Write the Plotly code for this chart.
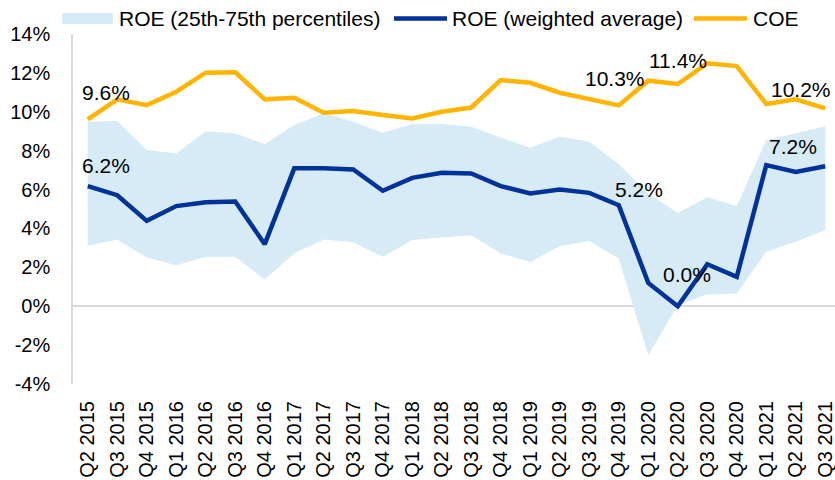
import plotly.graph_objects as go

quarters = ["Q2 2015", "Q3 2015", "Q4 2015", "Q1 2016", "Q2 2016", "Q3 2016", "Q4 2016",
            "Q1 2017", "Q2 2017", "Q3 2017", "Q4 2017", "Q1 2018", "Q2 2018", "Q3 2018",
            "Q4 2018", "Q1 2019", "Q2 2019", "Q3 2019", "Q4 2019", "Q1 2020", "Q2 2020",
            "Q3 2020", "Q4 2020", "Q1 2021", "Q2 2021", "Q3 2021"]

roe_p25 = [3.1, 3.43, 2.5, 2.11, 2.54, 2.54, 1.37, 2.71, 3.43, 3.29, 2.54, 3.4, 3.54, 3.65,
           2.71, 2.28, 3.09, 3.35, 2.45, -2.52, 0.05, 0.6, 0.65, 2.8, 3.31, 3.91]
roe_p75 = [9.49, 9.52, 8.03, 7.86, 9.0, 8.89, 8.34, 9.32, 9.92, 9.49, 8.92, 9.37, 9.37, 9.23,
           8.68, 8.15, 8.71, 8.46, 7.3, 5.8, 4.79, 5.6, 5.15, 8.54, 8.89, 9.26]
roe_avg = [6.18, 5.71, 4.39, 5.15, 5.35, 5.39, 3.19, 7.09, 7.09, 7.03, 5.94, 6.6, 6.86, 6.83,
           6.18, 5.8, 6.0, 5.83, 5.2, 1.2, 0.0, 2.16, 1.51, 7.26, 6.91, 7.2]
coe = [9.61, 10.64, 10.34, 11.03, 12.01, 12.03, 10.64, 10.72, 9.95, 10.04, 9.83, 9.66, 10.0,
       10.22, 11.63, 11.49, 10.98, 10.64, 10.33, 11.6, 11.43, 12.49, 12.35, 10.4, 10.64, 10.18]

series_names = ["ROE (25th-75th percentiles)", "ROE (weighted average)", "COE"]
y_ticks = [-4, -2, 0, 2, 4, 6, 8, 10, 12, 14]

BAND = "#d6ebf6"
BLUE = "#003299"
ORANGE = "#ffb400"
FONT = "Liberation Sans, Arial, sans-serif"

W, H = 835, 480
ML, MR, MT, MB = 73, 0, 34, 96
PW, PH = W - ML - MR, H - MT - MB


def px(xp):
    return (xp - ML) / PW


def py(yp):
    return (H - MB - yp) / PH


fig = go.Figure()
fig.add_trace(go.Scatter(x=quarters, y=roe_p25, mode="lines", line=dict(width=0, color=BAND),
                         showlegend=False, hoverinfo="skip"))
fig.add_trace(go.Scatter(x=quarters, y=roe_p75, mode="lines", line=dict(width=0, color=BAND),
                         fill="tonexty", fillcolor=BAND, name=series_names[0], showlegend=False))
fig.add_trace(go.Scatter(x=quarters, y=roe_avg, mode="lines", line=dict(width=4.5, color=BLUE),
                         name=series_names[1], showlegend=False))
fig.add_trace(go.Scatter(x=quarters, y=coe, mode="lines", line=dict(width=4.5, color=ORANGE),
                         name=series_names[2], showlegend=False))

# data labels: (series, index, xshift, yshift)
labels = [(coe, 0, 18, 27), (coe, 18, -4, 27), (coe, 20, 0, 23), (coe, 25, -24, 19),
          (roe_avg, 0, 18, 21), (roe_avg, 18, 20, 16), (roe_avg, 20, 9, 32), (roe_avg, 25, -32, 20)]
for series, i, xs, ys in labels:
    fig.add_annotation(x=quarters[i], y=series[i], text=f"{series[i]:.1f}%", showarrow=False,
                       xshift=xs, yshift=ys, font=dict(size=21, color="#000000", family=FONT))

# custom legend
LEG_Y = 18.5
fig.add_shape(type="rect", xref="paper", yref="paper", x0=px(62), x1=px(113), y0=py(24), y1=py(13),
              fillcolor=BAND, line=dict(width=0), layer="above")
fig.add_shape(type="line", xref="paper", yref="paper", x0=px(394), x1=px(447), y0=py(LEG_Y), y1=py(LEG_Y),
              line=dict(color=BLUE, width=4.5), layer="above")
fig.add_shape(type="line", xref="paper", yref="paper", x0=px(694), x1=px(747), y0=py(LEG_Y), y1=py(LEG_Y),
              line=dict(color=ORANGE, width=4.5), layer="above")
for name, xl in zip(series_names, [117, 450, 751]):
    fig.add_annotation(xref="paper", yref="paper", x=px(xl), y=py(LEG_Y), text=name,
                       showarrow=False, xanchor="left", yanchor="middle",
                       font=dict(size=21, color="#000000", family=FONT))

fig.update_layout(
    width=W, height=H,
    margin=dict(l=ML, r=MR, t=MT, b=MB, autoexpand=False),
    paper_bgcolor="white", plot_bgcolor="white",
    font=dict(family=FONT, size=20, color="#000000"),
    showlegend=False,
    xaxis=dict(type="category", range=[-0.5, 25.33], tickangle=-90, showgrid=False,
               showline=False, ticks="", ticklabelstandoff=12, tickfont=dict(size=20)),
    yaxis=dict(range=[-4, 14], tickvals=y_ticks, ticktext=[f"{v}%" for v in y_ticks],
               showgrid=False, zeroline=True, zerolinecolor="#d9d9d9", zerolinewidth=1.5,
               showline=True, linecolor="#d9d9d9", linewidth=1.5, ticks="",
               ticklabelstandoff=17, tickfont=dict(size=20), layer="below traces"),
)

fig.write_html("out.html", config={"displayModeBar": False},
               post_script="document.body.style.margin='0';document.body.style.overflow='hidden';")
